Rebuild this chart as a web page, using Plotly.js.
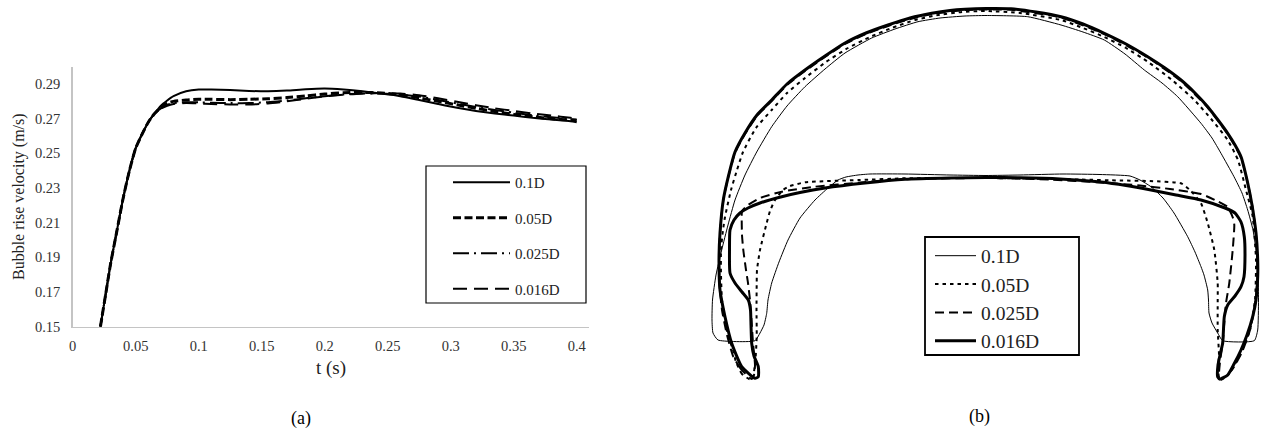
<!DOCTYPE html>
<html>
<head>
<meta charset="utf-8">
<script src="https://cdn.plot.ly/plotly-3.0.1.min.js"></script>
<style>
html,body{margin:0;padding:0;background:#fff;}
#chart{width:1261px;height:432px;}
</style>
</head>
<body>
<div id="chart"></div>
<script>
// ---------- Panel (a): bubble rise velocity vs time ----------
const seriesNames = ["0.1D", "0.05D", "0.025D", "0.016D"];
const tValues = [0.022, 0.026, 0.030, 0.035, 0.040, 0.045, 0.050, 0.055, 0.060, 0.065, 0.070, 0.075, 0.080, 0.090, 0.100, 0.110, 0.125, 0.140, 0.155, 0.170, 0.185, 0.200, 0.215, 0.230, 0.245, 0.260, 0.275, 0.290, 0.305, 0.320, 0.335, 0.350, 0.365, 0.380, 0.395, 0.400];
const vel_01D = [0.150, 0.168, 0.186, 0.205, 0.224, 0.240, 0.253, 0.261, 0.268, 0.273, 0.2775, 0.2805, 0.2830, 0.2858, 0.2868, 0.2868, 0.2865, 0.2860, 0.2858, 0.2862, 0.2870, 0.2874, 0.2868, 0.2858, 0.2845, 0.2830, 0.2808, 0.2785, 0.2763, 0.2745, 0.2730, 0.2718, 0.2705, 0.2695, 0.2685, 0.2680];
const vel_005D = [0.150, 0.168, 0.186, 0.205, 0.224, 0.240, 0.253, 0.261, 0.268, 0.273, 0.2765, 0.2790, 0.2800, 0.2808, 0.2812, 0.2812, 0.2810, 0.2812, 0.2815, 0.2822, 0.2832, 0.2842, 0.2850, 0.2852, 0.2848, 0.2838, 0.2820, 0.2800, 0.2780, 0.2760, 0.2742, 0.2725, 0.2712, 0.2700, 0.2692, 0.2690];
const vel_0025D = [0.150, 0.168, 0.186, 0.205, 0.224, 0.240, 0.253, 0.261, 0.268, 0.273, 0.2760, 0.2780, 0.2790, 0.2795, 0.2795, 0.2792, 0.2790, 0.2790, 0.2795, 0.2805, 0.2818, 0.2830, 0.2840, 0.2845, 0.2845, 0.2840, 0.2828, 0.2808, 0.2788, 0.2768, 0.2750, 0.2735, 0.2720, 0.2708, 0.2698, 0.2695];
const vel_0016D = [0.150, 0.168, 0.186, 0.205, 0.224, 0.240, 0.253, 0.261, 0.268, 0.273, 0.2758, 0.2775, 0.2785, 0.2790, 0.2788, 0.2785, 0.2782, 0.2782, 0.2788, 0.2800, 0.2815, 0.2828, 0.2838, 0.2845, 0.2848, 0.2845, 0.2835, 0.2818, 0.2798, 0.2778, 0.2760, 0.2745, 0.2730, 0.2718, 0.2705, 0.2700];
const xTickVals = [0, 0.05, 0.1, 0.15, 0.2, 0.25, 0.3, 0.35, 0.4];
const xTickText = ["0", "0.05", "0.1", "0.15", "0.2", "0.25", "0.3", "0.35", "0.4"];
const yTickVals = [0.15, 0.17, 0.19, 0.21, 0.23, 0.25, 0.27, 0.29];
const yTickText = ["0.15", "0.17", "0.19", "0.21", "0.23", "0.25", "0.27", "0.29"];

// ---------- Panel (b): bubble shapes (x: offset from axis, y: height above skirt tip) ----------
const shape_01D_x = [-231, -268, -273, -274, -273.5, -270, -264.3, -258, -251, -241, -229.3, -214.3, -199, -181, -161, -141, -114.3, -91, -68, -46, -21, 0, 41.7, 75, 97, 118.3, 139, 158.3, 176, 191.7, 215, 226, 235, 248, 256, 261.7, 267, 270, 272, 272.5, 271.7, 268.3, 236.7, 231.7, 226, 223, 222.5, 221.7, 218, 215, 209, 201.7, 188, 177, 165, 154, 144, 114, 77, 34, 0, -36, -81, -116, -128, -140, -148, -158, -171, -186, -198, -207, -214.3, -218, -219.3, -222, -226, -231];
const shape_01D_y = [39.3, 40, 47, 60, 80, 105, 130, 155, 180, 205, 228, 253.3, 274, 293.3, 311, 327, 342, 351, 358.3, 362, 364, 364.5, 363.3, 355, 348, 340, 326, 310, 297, 283.3, 256.7, 242, 226.7, 203.3, 187, 170, 150, 130, 105, 80, 50, 39.3, 39.3, 47, 57, 67, 80, 90, 105, 113.3, 128, 143.3, 167, 182, 193.3, 200, 204, 205.5, 206, 205, 204.5, 205, 206, 206, 205, 203, 200, 192, 180, 162, 140, 118, 97, 80, 66.7, 55, 47, 39.3];
const shape_005D_x = [-234.3, -244, -250, -253, -258, -261, -264, -265, -265, -263, -261, -255, -249, -243, -230, -214.3, -199, -181, -160, -138, -116, -94.3, -71, -48, -24, 0, 34, 75, 97, 118.3, 140, 161.7, 186, 208.3, 226, 241.7, 252, 260, 266.7, 270, 269, 264, 254, 242, 234, 232, 233, 231.7, 231.7, 231.7, 228.3, 221.7, 215, 204, 195, 164, 134, 94, 44, 0, -46, -81, -126, -181, -196, -203, -211, -216, -219.3, -226, -229, -229.3, -229.5, -229.3, -231, -234.3];
const shape_005D_y = [0, 6, 18, 30, 45, 60, 80, 105, 130, 150, 163, 190, 210, 228, 252, 270, 287, 302, 318, 332, 343, 352, 360, 365, 368, 369, 367, 360, 352, 343, 332, 318.3, 300, 280, 260, 240, 220, 190, 163.3, 120, 80, 50, 25, 5, 0, 10, 25, 50, 80, 97, 130, 157, 176.7, 190, 196.7, 199, 199.5, 200.5, 201.5, 202, 202, 201.7, 200, 197.7, 194, 190, 180, 169, 157, 130, 110, 97, 70, 43.3, 15, 0];
const shape_0025D_x = [-234.3, -245, -252.7, -259, -264, -266.5, -267, -266, -262.7, -257.7, -251, -241, -229, -214.3, -199, -181, -161, -141, -120, -98, -76, -54.3, -21, 0, 25, 75, 118.3, 161.7, 195, 221.7, 241.7, 255, 261.7, 267, 270.5, 271.5, 269, 264, 256, 246, 236, 233, 234, 236.7, 238.5, 240, 243.3, 246.7, 248.3, 247, 241.7, 229, 215, 184, 154, 115, 64, 0, -46, -81, -126, -171, -204.3, -226, -238, -244, -244.3, -244, -242.7, -240, -238, -236, -234.5, -233, -231, -232, -234.3];
const shape_0025D_y = [1, 11, 23.3, 45, 70, 95, 120, 147, 180, 203, 227, 246, 264, 279, 295, 309, 323, 336, 346, 354, 361, 366, 370, 370.5, 370.2, 362.5, 346, 322.5, 299, 272.5, 246, 222.5, 197, 170, 140, 103.3, 75, 50, 28, 10, 1, 1, 18, 37, 60, 77, 97, 130, 155, 162, 173, 180, 186, 191, 194.5, 197.5, 200.5, 202, 201.5, 201, 197.5, 193.3, 188.3, 182, 175, 169, 163.3, 145, 130, 110, 97, 80, 60, 37, 15, 5, 1];
const shape_0016D_x = [-231, -244.3, -254.3, -261, -266, -267, -266, -262.7, -257.7, -251, -241, -229, -214.3, -199, -181, -161, -141, -120, -98, -76, -54.3, -36, -21, 0, 25, 50, 75, 97, 118.3, 140, 161.7, 179, 195, 209, 221.7, 232, 241.7, 249, 255, 261.7, 266, 270, 271.7, 271.7, 270, 266.7, 261, 255, 248, 241.7, 234, 231.7, 232, 234, 236.7, 238.3, 241.7, 249, 255, 258, 259, 258.3, 255, 249, 239, 215, 190, 165, 140, 115, 74, 34, 0, -36, -81, -121, -161, -186, -204.3, -226, -238, -246, -252, -256, -256.5, -256, -251, -244, -237.7, -235.5, -235, -234.3, -232, -227.7, -227.7, -231];
const shape_0016D_y = [1.7, 13.3, 36.7, 63.3, 90, 120, 147, 180, 203.3, 228, 247, 265, 280, 296, 310, 324, 337, 347, 355, 362, 366.7, 369.5, 370.7, 371.5, 371.2, 368, 363.3, 356, 346.7, 336, 323.3, 312, 300, 287, 273.3, 260, 246.7, 235, 223.3, 197, 175, 147, 120, 103.3, 80, 63.3, 45, 30, 16, 5, 1, 3, 15, 25, 37, 63.3, 75, 84, 93.3, 103.3, 125, 143.3, 158, 167, 172, 180, 185, 190, 194.5, 198, 201, 202.2, 202.5, 202, 200.7, 197, 192, 187.5, 183.3, 177, 172, 167, 160, 150, 130, 107, 97, 88, 80, 70, 55, 36.7, 24, 13.3, 3.3, 1.7];

const serif = 'Liberation Serif, serif';

const velSeries = [vel_01D, vel_005D, vel_0025D, vel_0016D];
const velStyles = [
  {width: 2, dash: 'solid'},
  {width: 3, dash: '8px,3.5px'},
  {width: 2, dash: '16px,5px,2px,5px'},
  {width: 2, dash: '14px,7px'}
];
const shapeX = [shape_01D_x, shape_005D_x, shape_0025D_x, shape_0016D_x];
const shapeY = [shape_01D_y, shape_005D_y, shape_0025D_y, shape_0016D_y];
const shapeStyles = [
  {width: 1, dash: 'solid'},
  {width: 2, dash: '3.5px,4px'},
  {width: 2, dash: '9px,5px'},
  {width: 3, dash: 'solid'}
];

const traces = [];
seriesNames.forEach((name, i) => {
  traces.push({
    type: 'scatter', mode: 'lines', name: name,
    x: tValues, y: velSeries[i], xaxis: 'x', yaxis: 'y',
    line: {color: '#000', width: velStyles[i].width, dash: velStyles[i].dash, shape: 'spline', smoothing: 0.6},
    legend: 'legend', legendgroup: 'a' + i
  });
});
seriesNames.forEach((name, i) => {
  traces.push({
    type: 'scatter', mode: 'lines', name: name,
    x: shapeX[i], y: shapeY[i], xaxis: 'x2', yaxis: 'y2',
    line: {color: '#000', width: shapeStyles[i].width, dash: shapeStyles[i].dash, shape: 'spline', smoothing: 0.5},
    legend: 'legend2', legendgroup: 'b' + i
  });
});

const W = 1261, H = 432;
const layout = {
  width: W, height: H,
  margin: {l: 0, r: 0, t: 0, b: 0},
  paper_bgcolor: '#fff', plot_bgcolor: 'rgba(0,0,0,0)',
  font: {family: serif, color: '#000'},
  showlegend: true,
  xaxis: {
    domain: [72.7 / W, 589.3 / W], range: [0, 0.41],
    tickvals: xTickVals, ticktext: xTickText,
    showgrid: false, zeroline: false, ticks: '',
    showline: true, linecolor: '#c4c4c4', linewidth: 1.5,
    tickfont: {family: serif, size: 14.5, color: '#333'},
    ticklabelstandoff: 5,
    title: {text: 't (s)', font: {family: serif, size: 19, color: '#222'}, standoff: 8},
    anchor: 'y'
  },
  yaxis: {
    domain: [105.3 / H, 365.3 / H], range: [0.15, 0.30],
    tickvals: yTickVals, ticktext: yTickText,
    showgrid: false, zeroline: false, ticks: '',
    showline: true, linecolor: '#c4c4c4', linewidth: 1.5,
    tickfont: {family: serif, size: 14.5, color: '#333'},
    ticklabelstandoff: 8,
    title: {text: 'Bubble rise velocity (m/s)', font: {family: serif, size: 16, color: '#222'}, standoff: 6},
    anchor: 'x'
  },
  xaxis2: {
    domain: [700 / W, 1], range: [-286, 275],
    visible: false, fixedrange: true, anchor: 'y2'
  },
  yaxis2: {
    domain: [0, 1], range: [-52, 380],
    visible: false, fixedrange: true, anchor: 'x2'
  },
  legend: {
    x: 448 / W, xanchor: 'left', y: 1 - 166 / H, yanchor: 'top',
    bgcolor: 'rgba(0,0,0,0)', borderwidth: 0,
    font: {family: serif, size: 15, color: '#222'},
    itemwidth: 57, traceorder: 'grouped', tracegroupgap: 13
  },
  legend2: {
    x: 930 / W, xanchor: 'left', y: 1 - 236.5 / H, yanchor: 'top',
    bgcolor: 'rgba(0,0,0,0)', borderwidth: 0,
    font: {family: serif, size: 19.5, color: '#222'},
    itemwidth: 41, traceorder: 'grouped', tracegroupgap: 0
  },
  shapes: [
    {type: 'rect', xref: 'paper', yref: 'paper', x0: 426 / W, x1: 586 / W, y0: 1 - 303 / H, y1: 1 - 166 / H,
     line: {color: '#000', width: 1.2}, fillcolor: 'rgba(0,0,0,0)'},
    {type: 'rect', xref: 'paper', yref: 'paper', x0: 925 / W, x1: 1079 / W, y0: 1 - 355 / H, y1: 1 - 237 / H,
     line: {color: '#000', width: 1.8}, fillcolor: 'rgba(0,0,0,0)'}
  ],
  annotations: [
    {text: '(a)', xref: 'paper', yref: 'paper', x: 301 / W, y: 1 - 418 / H, xanchor: 'center', yanchor: 'middle',
     showarrow: false, font: {family: serif, size: 18, color: '#000'}},
    {text: '(b)', xref: 'paper', yref: 'paper', x: 979 / W, y: 1 - 416 / H, xanchor: 'center', yanchor: 'middle',
     showarrow: false, font: {family: serif, size: 18, color: '#000'}}
  ]
};

Plotly.newPlot('chart', traces, layout, {displayModeBar: false, staticPlot: true});
</script>
</body>
</html>
